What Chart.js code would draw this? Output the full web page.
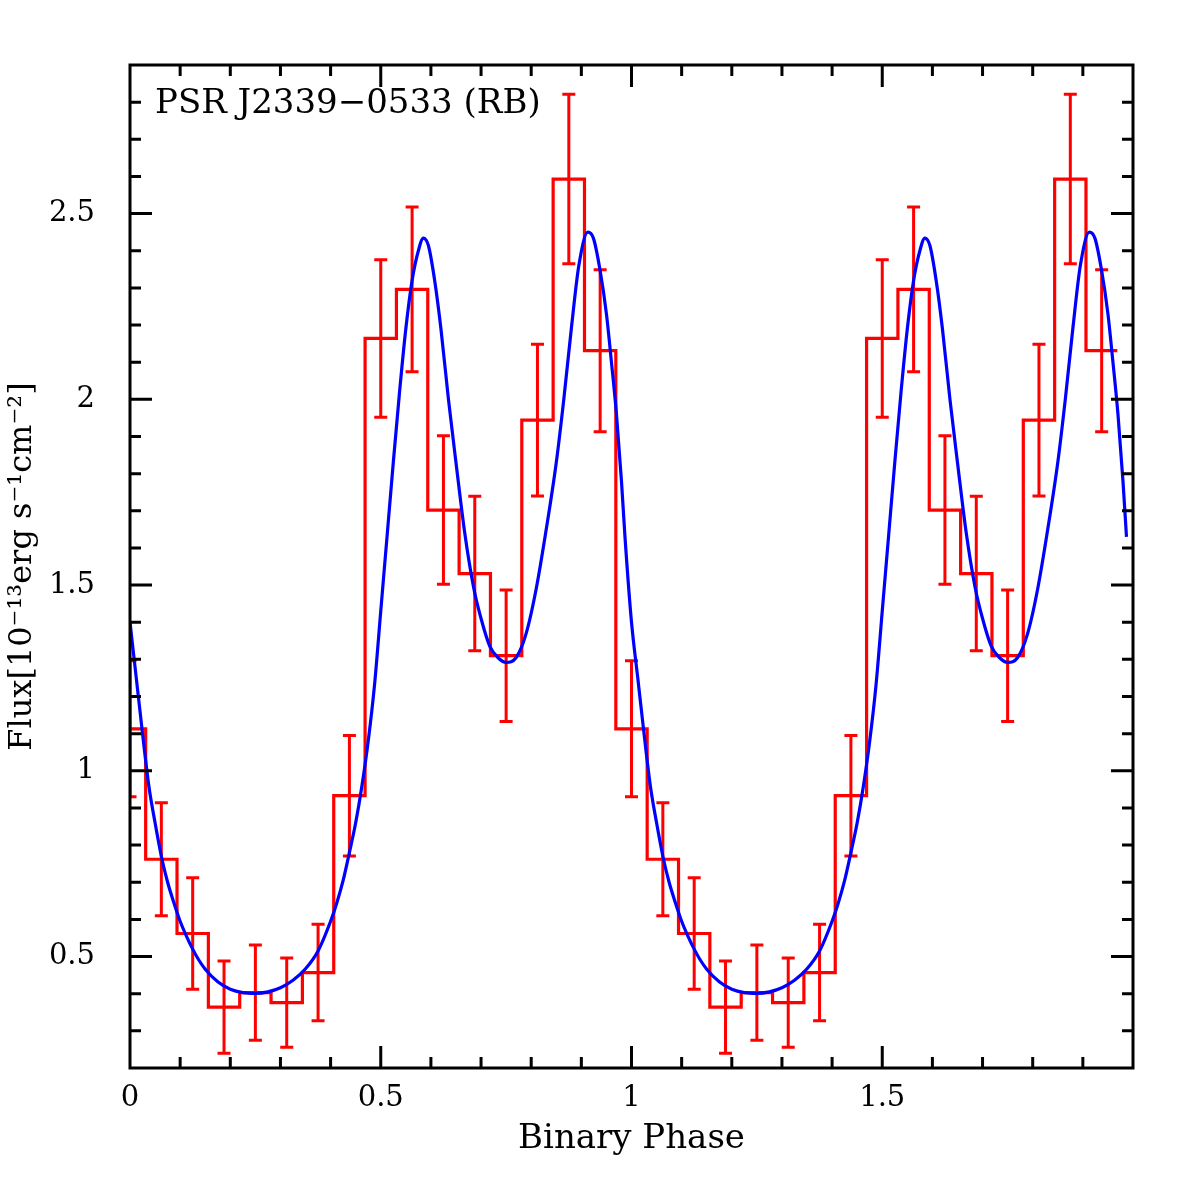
<!DOCTYPE html>
<html><head><meta charset="utf-8">
<script src="https://cdn.jsdelivr.net/npm/chart.js@4.4.1/dist/chart.umd.min.js"></script>
<style>html,body{margin:0;padding:0;background:#fff;}#wrap{width:1196px;height:1196px;}</style>
</head><body><div id="wrap"><canvas id="c" width="1196" height="1196"></canvas></div>
<script>
// ---- data (one orbital cycle, shown twice) ----
const binPhase = [0, 0.0625, 0.125, 0.1875, 0.25, 0.3125, 0.375, 0.4375, 0.5, 0.5625, 0.625, 0.6875, 0.75, 0.8125, 0.875, 0.9375];
const binFlux  = [1.113, 0.762, 0.562, 0.364, 0.403, 0.376, 0.457, 0.933, 2.164, 2.296, 1.702, 1.531, 1.310, 1.944, 2.593, 2.131];
const binErr   = [0.183, 0.152, 0.150, 0.124, 0.128, 0.120, 0.130, 0.162, 0.212, 0.222, 0.200, 0.208, 0.177, 0.204, 0.228, 0.218];
const binWidth = 0.0625;
const curvePhase = [0, 0.0125, 0.025, 0.0375, 0.05, 0.0625, 0.075, 0.0875, 0.1, 0.1125, 0.125, 0.1375, 0.15, 0.175, 0.2, 0.225, 0.25, 0.275, 0.3, 0.325, 0.35, 0.375, 0.4, 0.4125, 0.425, 0.4375, 0.45, 0.4625, 0.475, 0.4875, 0.5, 0.5125, 0.525, 0.5375, 0.55, 0.5625, 0.575, 0.585, 0.595, 0.6075, 0.62, 0.635, 0.65, 0.6675, 0.685, 0.7, 0.7175, 0.735, 0.75, 0.77, 0.79, 0.81, 0.83, 0.85, 0.865, 0.88, 0.895, 0.913, 0.924, 0.937, 0.95, 0.96, 0.97, 0.98, 0.987];
const curveFlux  = [1.40, 1.25, 1.10, 0.96, 0.86, 0.77, 0.70, 0.645, 0.595, 0.555, 0.52, 0.49, 0.466, 0.432, 0.412, 0.403, 0.401, 0.405, 0.416, 0.436, 0.467, 0.515, 0.595, 0.645, 0.705, 0.78, 0.86, 0.96, 1.08, 1.23, 1.43, 1.63, 1.83, 2.02, 2.19, 2.32, 2.40, 2.434, 2.414, 2.32, 2.19, 2.00, 1.83, 1.64, 1.495, 1.41, 1.335, 1.303, 1.292, 1.305, 1.37, 1.49, 1.65, 1.83, 2.00, 2.19, 2.36, 2.45, 2.434, 2.35, 2.23, 2.10, 1.96, 1.78, 1.63];
const cycles = [0, 1];
const xTickLabels = [0, 0.5, 1, 1.5];
const yTickLabels = [0.5, 1, 1.5, 2, 2.5];
const sourceLabel = 'PSR J2339\u22120533 (RB)';
const xTitle = 'Binary Phase';
const yTitle = 'Flux[10\u207B\u00B9\u00B3erg s\u207B\u00B9cm\u207B\u00B2]';

// ---- build tables ----
const bins = [];
cycles.forEach(c => binPhase.forEach((p, i) => bins.push({x: c + p, y: binFlux[i], e: binErr[i]})));
const steps = [];
bins.forEach(b => { steps.push({x: b.x - binWidth / 2, y: b.y}); steps.push({x: b.x + binWidth / 2, y: b.y}); });
const curve = [];
cycles.forEach(c => curvePhase.forEach((p, i) => curve.push({x: c + p, y: curveFlux[i]})));

const FONT = "'DejaVu Serif', 'Liberation Serif', serif";

const errorBars = {
  id: 'errorBars',
  beforeDatasetsDraw(chart) {
    const {ctx, chartArea: a, scales: {x, y}} = chart;
    ctx.save();
    ctx.beginPath(); ctx.rect(a.left, a.top, a.right - a.left, a.bottom - a.top); ctx.clip();
    ctx.strokeStyle = '#ff0000'; ctx.lineWidth = 3; ctx.lineCap = 'butt';
    bins.forEach(b => {
      const px = x.getPixelForValue(b.x);
      const yt = y.getPixelForValue(b.y + b.e), yb = y.getPixelForValue(b.y - b.e);
      ctx.beginPath();
      ctx.moveTo(px, yt); ctx.lineTo(px, yb);
      ctx.moveTo(px - 6.5, yt); ctx.lineTo(px + 6.5, yt);
      ctx.moveTo(px - 6.5, yb); ctx.lineTo(px + 6.5, yb);
      ctx.stroke();
    });
    ctx.restore();
  }
};

const frame = {
  id: 'frame',
  afterDraw(chart) {
    const {ctx, chartArea: a, scales: {x, y}} = chart;
    ctx.save();
    ctx.strokeStyle = '#000'; ctx.lineWidth = 3;
    ctx.beginPath();
    for (let k = 1; k < 20; k++) {
      const len = k % 5 === 0 ? 22 : 11;
      const px = x.getPixelForValue(k / 10);
      ctx.moveTo(px, a.bottom); ctx.lineTo(px, a.bottom - len);
      ctx.moveTo(px, a.top); ctx.lineTo(px, a.top + len);
    }
    for (let k = 3; k < 29; k++) {
      const len = k % 5 === 0 ? 22 : 11;
      const py = y.getPixelForValue(k / 10);
      ctx.moveTo(a.left, py); ctx.lineTo(a.left + len, py);
      ctx.moveTo(a.right, py); ctx.lineTo(a.right - len, py);
    }
    ctx.stroke();
    ctx.strokeRect(a.left, a.top, a.right - a.left, a.bottom - a.top);
    ctx.fillStyle = '#000';
    ctx.font = '34px ' + FONT;
    ctx.textBaseline = 'alphabetic';
    ctx.fillText(sourceLabel, a.left + 25, a.top + 48);
    ctx.restore();
  }
};

new Chart(document.getElementById('c'), {
  data: {
    datasets: [
      {type: 'line', data: curve, borderColor: '#0000ff', borderWidth: 3.2, pointRadius: 0, fill: false, cubicInterpolationMode: 'monotone'},
      {type: 'line', data: steps, borderColor: '#ff0000', borderWidth: 3.2, pointRadius: 0, fill: false, tension: 0}
    ]
  },
  options: {
    responsive: false, animation: false, devicePixelRatio: 1,
    layout: {padding: {left: 0, right: 63, top: 65, bottom: 0}},
    plugins: {legend: {display: false}, tooltip: {enabled: false}},
    scales: {
      x: {
        type: 'linear', min: 0, max: 2,
        grid: {display: false, drawTicks: false}, border: {display: false},
        afterBuildTicks: s => { s.ticks = xTickLabels.map(v => ({value: v})); },
        afterFit: s => { s.height = 128; },
        ticks: {color: '#000', font: {family: FONT, size: 29}, padding: 13, maxRotation: 0, autoSkip: false, callback: v => String(v)},
        title: {display: true, text: xTitle, color: '#000', font: {family: FONT, size: 34}, padding: {top: 0, bottom: 36}}
      },
      y: {
        type: 'linear', min: 0.2, max: 2.9,
        grid: {display: false, drawTicks: false}, border: {display: false},
        afterBuildTicks: s => { s.ticks = yTickLabels.map(v => ({value: v})); },
        afterFit: s => { s.width = 130; },
        ticks: {color: '#000', font: {family: FONT, size: 29}, padding: 35, autoSkip: false, callback: v => String(v)},
        title: {display: true, text: yTitle, color: '#000', font: {family: FONT, size: 32}, padding: {top: 3, bottom: 0}}
      }
    }
  },
  plugins: [errorBars, frame]
});
</script></body></html>
